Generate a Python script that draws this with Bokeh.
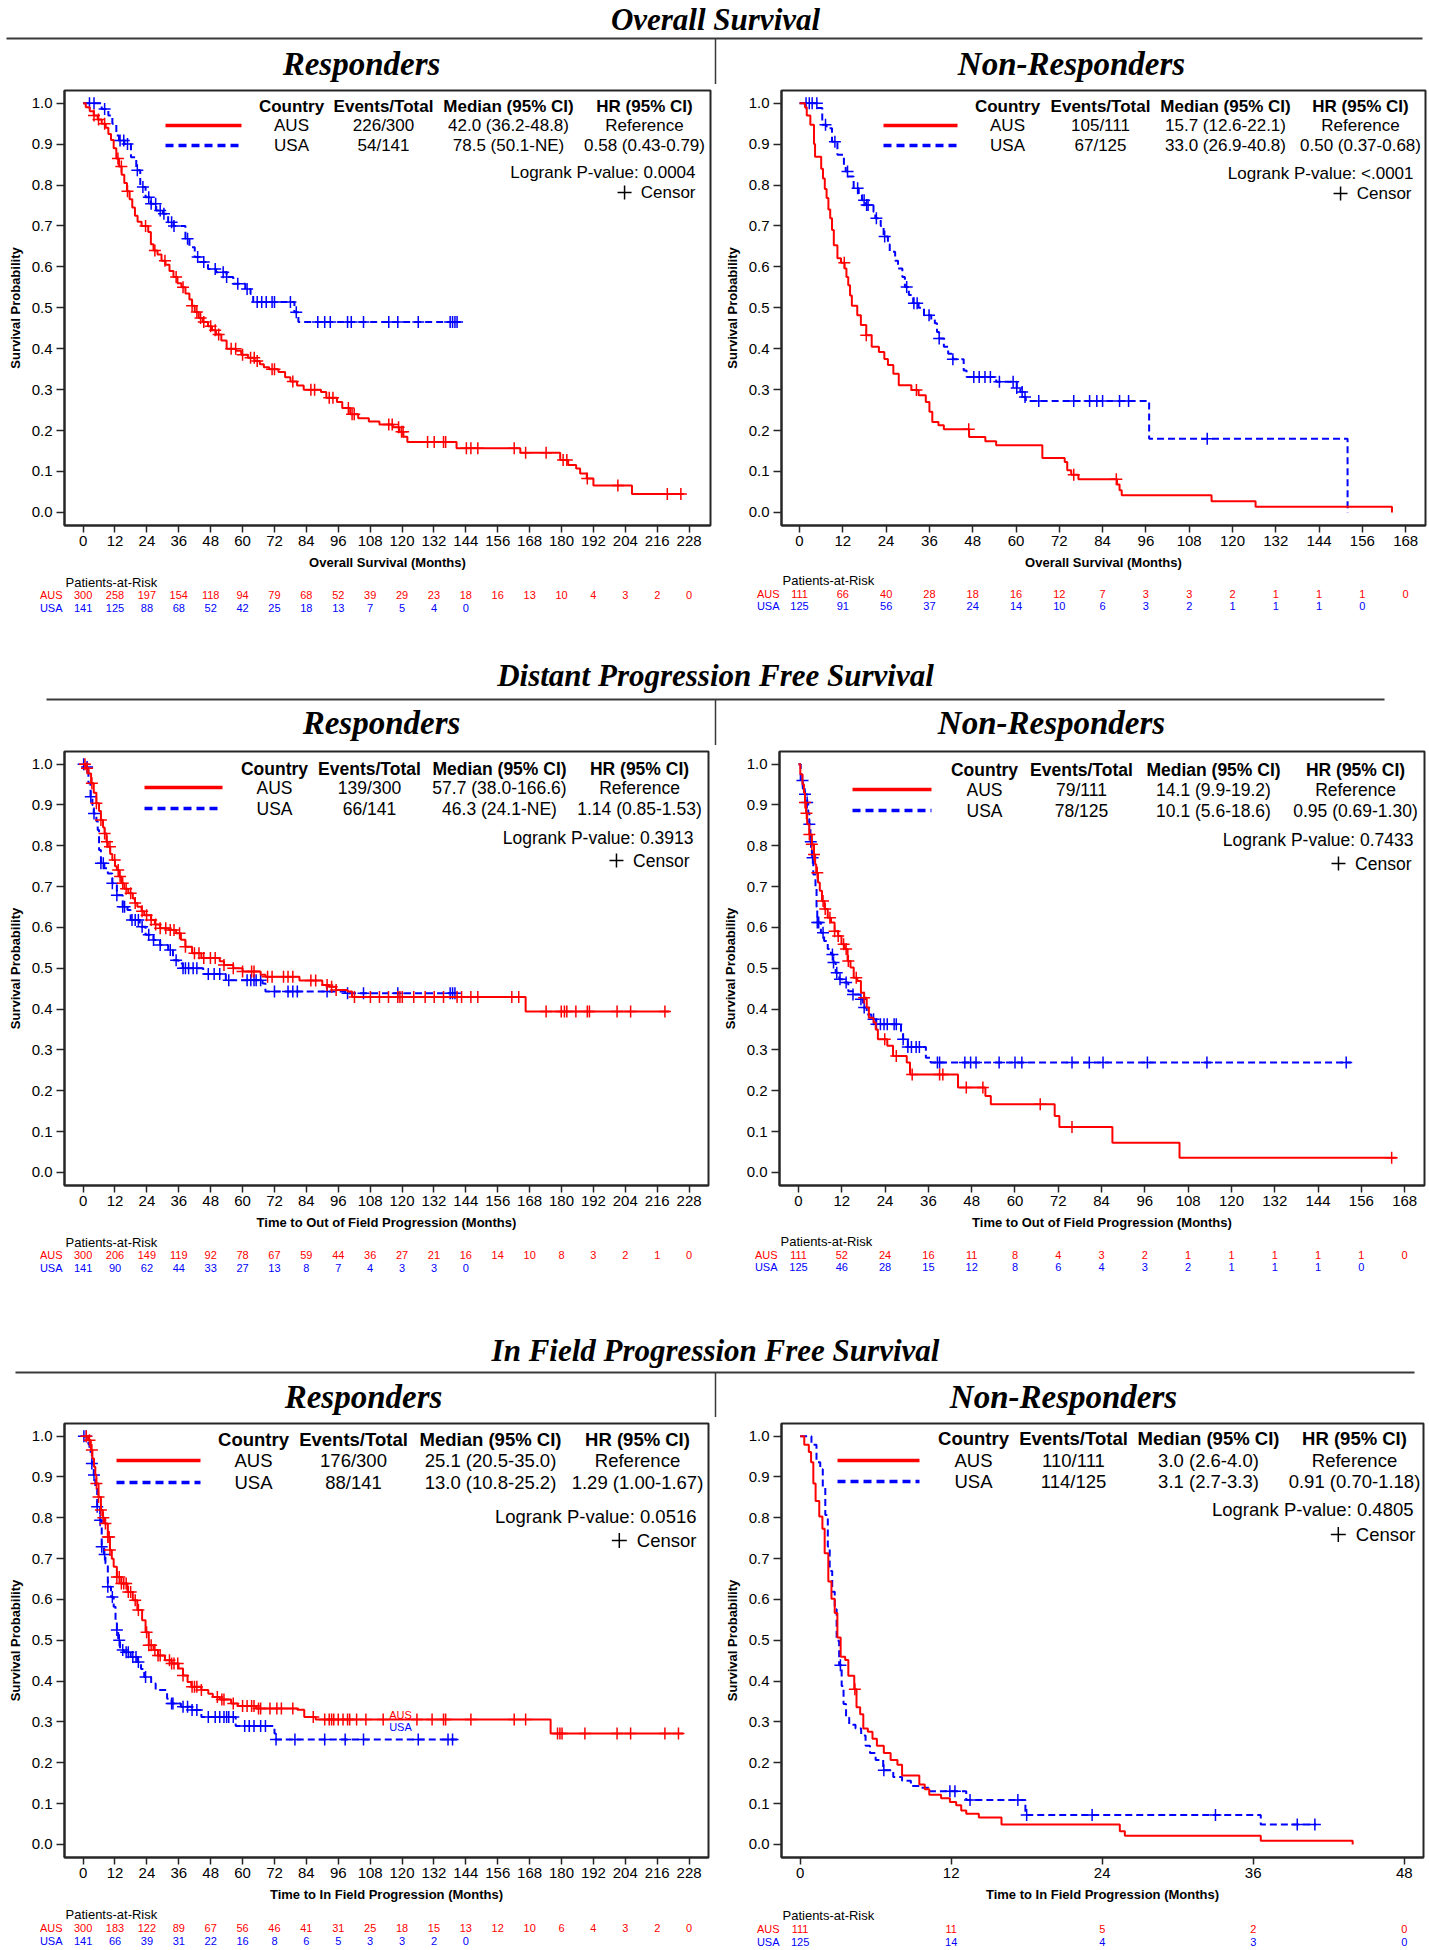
import numpy as np
from bokeh.plotting import figure
from bokeh.layouts import column, row
from bokeh.models import Range1d, FixedTicker, PrintfTickFormatter
from bokeh.embed import file_html
from bokeh.resources import INLINE
from bokeh.core.properties import value

SANS = "Liberation Sans"
SERIF = "Liberation Serif"
RED = "#FF0000"
BLUE = "#0000FF"
INK = "#262626"

# ---------------- ticks ----------------
x_ticks_228 = [0, 12, 24, 36, 48, 60, 72, 84, 96, 108, 120, 132, 144, 156, 168, 180, 192, 204, 216, 228]
x_ticks_168 = [0, 12, 24, 36, 48, 60, 72, 84, 96, 108, 120, 132, 144, 156, 168]
x_ticks_48 = [0, 12, 24, 36, 48]
y_ticks = [0.0, 0.1, 0.2, 0.3, 0.4, 0.5, 0.6, 0.7, 0.8, 0.9, 1.0]

# ---------------- Overall Survival - Responders ----------------
os_r_aus_t = [0, 1, 2.5, 4, 5.5, 7, 8.5, 9.5, 10.5, 11.5, 12.5, 13.5, 14.5, 15.5, 16.5, 17.5, 18.5, 19.5, 20.5, 22,
              24.5, 25.5, 26.5, 28, 29.5, 31, 32.5, 34, 35.5, 37, 38.5, 40, 41, 42, 43.5, 45, 47, 48.5, 50, 52,
              54, 57.5, 59.5, 62, 64.5, 66.5, 68, 70, 73.5, 76, 78, 80.5, 83, 89.5, 91.5, 95.5, 97.5, 100.5, 103.5, 107.5,
              111.5, 116.5, 119, 120.5, 122, 140.5, 164.5, 179.5, 182.5, 185.5, 187, 189.5, 192, 206.5, 226]
os_r_aus_s = [1.0, 0.99, 0.98, 0.97, 0.96, 0.95, 0.94, 0.925, 0.91, 0.89, 0.865, 0.845, 0.825, 0.805, 0.785, 0.765, 0.745, 0.725, 0.71, 0.70,
              0.685, 0.655, 0.64, 0.63, 0.615, 0.605, 0.59, 0.575, 0.56, 0.55, 0.535, 0.52, 0.505, 0.49, 0.475, 0.465, 0.455, 0.445, 0.435, 0.42,
              0.40, 0.395, 0.385, 0.378, 0.37, 0.362, 0.355, 0.35, 0.343, 0.33, 0.32, 0.31, 0.30, 0.294, 0.28, 0.27, 0.255, 0.24, 0.23, 0.222,
              0.215, 0.208, 0.197, 0.185, 0.172, 0.157, 0.146, 0.128, 0.116, 0.107, 0.095, 0.083, 0.066, 0.045, 0.045]
os_r_aus_c = [4.1, 5.8, 8.1, 13.1, 14.4, 16.7, 23.5, 27, 30.8, 35, 37.6, 41, 42.8, 44.2, 45.4, 48, 49.7, 51, 55.7, 57.4, 60, 63,
              64.4, 65.5, 71.1, 72, 78.9, 85.7, 87.1, 92.6, 94, 99.8, 101.2, 102, 115, 116.3, 118.7, 119.8, 120.4, 129.6,
              132.1, 135.6, 136.4, 144.2, 145.9, 148.5, 162.2, 166.5, 174.2, 180.6, 182, 189.7, 201.2, 219.8, 224.9]
os_r_usa_t = [0, 7, 9.5, 11, 12.5, 13.5, 15.5, 18, 20, 21.5, 23.5, 25.5, 27.5, 30, 32, 34, 38.5, 40, 42, 44,
              47, 50, 54, 56.5, 61, 63, 64, 79.5, 81, 142]
os_r_usa_s = [1.0, 0.986, 0.97, 0.95, 0.921, 0.909, 0.90, 0.868, 0.836, 0.795, 0.77, 0.754, 0.738, 0.73, 0.709, 0.70, 0.669, 0.648, 0.624, 0.612,
              0.595, 0.587, 0.575, 0.559, 0.546, 0.534, 0.514, 0.489, 0.465, 0.465]
os_r_usa_c = [2.4, 4.1, 8.1, 13.9, 15.3, 16.7, 20.4, 22.5, 24.7, 25.6, 27.3, 29, 30.4, 33.3, 34.2, 39.3, 43.1, 45.4, 49.7, 52.7,
              54, 58.2, 61.7, 65.5, 67.2, 68.9, 71.1, 72, 78, 80.2, 88.3, 90.9, 93, 99.5, 100.9, 105.5, 115, 118.4, 126.1,
              138.1, 139, 139.9, 140.7]
os_r_risk_aus = [300, 258, 197, 154, 118, 94, 79, 68, 52, 39, 29, 23, 18, 16, 13, 10, 4, 3, 2, 0]
os_r_risk_usa = [141, 125, 88, 68, 52, 42, 25, 18, 13, 7, 5, 4, 0]
os_r_row_aus = ["AUS", "226/300", "42.0 (36.2-48.8)", "Reference"]
os_r_row_usa = ["USA", "54/141", "78.5 (50.1-NE)", "0.58 (0.43-0.79)"]
os_r_logrank = "0.0004"

# ---------------- Overall Survival - Non-Responders ----------------
os_n_aus_t = [0, 1.5, 2, 3, 4, 4.3, 6, 6.5, 7, 7.5, 8, 8.5, 9, 9.5, 10.5, 11.5, 12.5, 13, 13.5, 14,
              14.5, 16, 17, 18.5, 20, 22, 23.5, 24.5, 26, 27.5, 31, 33, 35, 36, 36.8, 38.5, 40, 47, 51.5, 54.5,
              67.3, 73.5, 74.2, 75.3, 77.3, 88, 88.7, 89.3, 114.2, 126.4, 164.2]
os_n_aus_s = [1.0, 0.99, 0.97, 0.947, 0.9, 0.869, 0.84, 0.816, 0.79, 0.768, 0.74, 0.719, 0.69, 0.653, 0.621, 0.61, 0.596, 0.575, 0.555, 0.53,
              0.505, 0.482, 0.458, 0.433, 0.405, 0.392, 0.375, 0.36, 0.339, 0.311, 0.299, 0.286, 0.27, 0.246, 0.221, 0.213, 0.203, 0.184, 0.174, 0.164,
              0.133, 0.123, 0.103, 0.092, 0.081, 0.068, 0.054, 0.042, 0.027, 0.014, 0.0]
os_n_aus_c = [12.4, 18.5, 32.4, 46.9, 76, 87.8]
os_n_usa_t = [0, 5, 6.3, 7.5, 9, 10.5, 12.3, 12.8, 13.4, 15, 16.4, 17.3, 18.3, 20.5, 21, 22.5, 23.3, 24.5, 25, 26.5,
              27.3, 28.5, 29.2, 30.3, 31.5, 33, 34.5, 36.5, 37.5, 38.1, 38.7, 40, 41.2, 42.5, 45.5, 46.3, 54.5, 60.2, 61.2, 62.1,
              62.7, 96.9, 151.9]
os_n_usa_s = [1.0, 0.988, 0.947, 0.939, 0.906, 0.874, 0.845, 0.833, 0.821, 0.792, 0.776, 0.763, 0.751, 0.735, 0.719, 0.70, 0.674, 0.655, 0.637, 0.615,
              0.596, 0.575, 0.551, 0.531, 0.511, 0.5, 0.482, 0.47, 0.462, 0.441, 0.425, 0.405, 0.388, 0.374, 0.347, 0.331, 0.319, 0.304, 0.294, 0.282,
              0.272, 0.18, 0.0]
os_n_usa_c = [1.8, 2.7, 3.5, 4.8, 7.2, 9.8, 13.3, 16.1, 17.9, 18.6, 19.0, 21.3, 23.6, 29.7, 31.7, 32.6, 35.9, 38.7, 42.5, 48.3,
              49.8, 51.4, 52.9, 55.4, 59.2, 60.2, 61.7, 62.5, 66.3, 76, 80.4, 82.4, 84, 88.7, 91.2, 113]
os_n_risk_aus = [111, 66, 40, 28, 18, 16, 12, 7, 3, 3, 2, 1, 1, 1, 0]
os_n_risk_usa = [125, 91, 56, 37, 24, 14, 10, 6, 3, 2, 1, 1, 1, 0]
os_n_row_aus = ["AUS", "105/111", "15.7 (12.6-22.1)", "Reference"]
os_n_row_usa = ["USA", "67/125", "33.0 (26.9-40.8)", "0.50 (0.37-0.68)"]
os_n_logrank = "<.0001"

# ---------------- Distant PFS - Responders ----------------
dp_r_aus_t = [0, 1, 2, 3, 4, 5, 6, 6.7, 7.5, 8.1, 8.8, 9.3, 10.2, 11, 12, 12.7, 13.5, 14.4, 15.5, 17,
              18.7, 19.5, 20.4, 22, 23, 25.6, 27, 29, 32.5, 35, 36.8, 38.5, 41, 44.5, 51.4, 53, 56.5, 60, 66.8, 68.6,
              81.4, 90, 92.6, 95.2, 99.5, 101.2, 166.5, 220.6]
dp_r_aus_s = [1.0, 0.99, 0.977, 0.953, 0.93, 0.904, 0.885, 0.863, 0.845, 0.83, 0.81, 0.798, 0.78, 0.765, 0.75, 0.741, 0.725, 0.708, 0.695, 0.684,
              0.671, 0.66, 0.651, 0.64, 0.63, 0.618, 0.607, 0.598, 0.594, 0.586, 0.57, 0.553, 0.537, 0.525, 0.517, 0.508, 0.50, 0.492, 0.484, 0.479,
              0.47, 0.459, 0.455, 0.447, 0.443, 0.43, 0.394, 0.394]
dp_r_aus_c = [0.7, 1.5, 3.3, 5, 6.7, 8.1, 9, 10.1, 11.9, 13.2, 13.9, 14.9, 16.2, 17.9, 19.6, 22.2, 23.9, 25.6, 27.3, 29,
              31.1, 32.8, 34.2, 36.3, 38.5, 41.9, 43.6, 45.4, 47.9, 49.7, 53, 56.5, 60, 63.4, 64.3, 69.4, 71.1, 75.4, 77.1, 78.9,
              85.7, 87.5, 91.8, 93.5, 95.2, 102.1, 108.1, 111.5, 114.9, 118.4, 119.2, 120.1, 124.4, 128.7, 132.1, 135.6, 140.7,
              142.4, 145.9, 148.5, 161.3, 163.9, 174.2, 179.9, 181.1, 182, 185.4, 189.7, 190.5, 200.9, 206, 218.9]
dp_r_usa_t = [0, 1.3, 2, 2.8, 3.5, 4, 5, 5.5, 6, 6.7, 8, 9.3, 11, 12.7, 14.9, 16.7, 17.9, 21.3, 23.5, 26.5,
              29, 32, 33.8, 35.9, 37.5, 45.2, 53.7, 67.5, 68.6, 98.6, 140.7]
dp_r_usa_s = [1.0, 0.993, 0.953, 0.92, 0.9, 0.879, 0.86, 0.839, 0.79, 0.757, 0.745, 0.732, 0.708, 0.679, 0.651, 0.643, 0.618, 0.602, 0.582, 0.569,
              0.557, 0.545, 0.52, 0.512, 0.5, 0.486, 0.471, 0.463, 0.443, 0.439, 0.439]
dp_r_usa_c = [0.2, 1.5, 2.9, 4.1, 6.7, 7.6, 11, 12.7, 14.9, 15.6, 18.4, 19.6, 20.8, 22.2, 24.7, 26.5, 29, 32.8, 35, 37.6,
              38.5, 39.7, 41.4, 42.8, 47.1, 49.3, 51.4, 54.8, 61.7, 63.1, 64.3, 65.1, 66.8, 72, 77.1, 78.9, 80.6, 91.8,
              99.5, 105.5, 118.4, 138.1, 139, 139.9]
dp_r_risk_aus = [300, 206, 149, 119, 92, 78, 67, 59, 44, 36, 27, 21, 16, 14, 10, 8, 3, 2, 1, 0]
dp_r_risk_usa = [141, 90, 62, 44, 33, 27, 13, 8, 7, 4, 3, 3, 0]
dp_r_row_aus = ["AUS", "139/300", "57.7 (38.0-166.6)", "Reference"]
dp_r_row_usa = ["USA", "66/141", "46.3 (24.1-NE)", "1.14 (0.85-1.53)"]
dp_r_logrank = "0.3913"

# ---------------- Distant PFS - Non-Responders ----------------
dp_n_aus_t = [0, 0.5, 1.1, 1.5, 1.8, 2.1, 2.4, 3, 3.7, 4.3, 4.6, 4.9, 5.4, 5.9, 6.5, 7.2, 8.1, 9, 10, 11,
              11.9, 12.8, 13.6, 14.4, 15.3, 16.3, 17.3, 18.2, 18.9, 19.5, 20.8, 21.4, 22, 24.6, 26.2, 30, 30.9, 44.2, 51.8, 53.3,
              71, 72.3, 87, 105.6, 165.7]
dp_n_aus_s = [1.0, 0.975, 0.951, 0.93, 0.906, 0.88, 0.853, 0.828, 0.804, 0.779, 0.755, 0.734, 0.71, 0.69, 0.665, 0.645, 0.624, 0.612, 0.591, 0.579,
              0.559, 0.547, 0.518, 0.502, 0.477, 0.469, 0.44, 0.428, 0.404, 0.379, 0.367, 0.35, 0.326, 0.31, 0.285, 0.269, 0.24, 0.208, 0.187, 0.167,
              0.138, 0.111, 0.073, 0.036, 0.036]
dp_n_aus_c = [1.8, 2.2, 3, 3.7, 4.3, 5.2, 6.8, 7.4, 8.7, 10, 11, 12.5, 13.2, 13.8, 16, 18.2, 23.9, 27.1, 31.5, 39.1,
              40, 46.5, 51.1, 67, 75.8, 164.4]
dp_n_usa_t = [0, 0.6, 1.2, 1.8, 2.4, 2.7, 3, 3.3, 3.7, 4.1, 4.7, 5, 5.2, 6.2, 7.1, 8.1, 9, 9.7, 10.3, 11.3,
              12.5, 13.8, 15.1, 17, 17.9, 18.9, 20.2, 21.5, 28.4, 29, 30.3, 35.3, 36.6, 153.1]
dp_n_usa_s = [1.0, 0.96, 0.94, 0.926, 0.906, 0.88, 0.853, 0.81, 0.771, 0.73, 0.694, 0.65, 0.612, 0.587, 0.567, 0.547, 0.534, 0.514, 0.489, 0.473,
              0.465, 0.444, 0.436, 0.424, 0.404, 0.387, 0.375, 0.363, 0.346, 0.326, 0.307, 0.281, 0.269, 0.269]
dp_n_usa_c = [1.1, 1.8, 2.4, 3, 3.4, 3.9, 5.2, 5.6, 6.8, 9.4, 9.7, 10.6, 11.5, 13.2, 15.1, 17.3, 18.2, 20.8, 21.6, 22.7,
              23.7, 24.6, 26.5, 27.1, 29, 30.3, 31.3, 32.6, 33.5, 38.5, 39.1, 46.1, 47.7, 49.2, 55.6, 60, 61.9, 75.8, 80.6,
              84.4, 96.7, 113.2, 151.8]
dp_n_risk_aus = [111, 52, 24, 16, 11, 8, 4, 3, 2, 1, 1, 1, 1, 1, 0]
dp_n_risk_usa = [125, 46, 28, 15, 12, 8, 6, 4, 3, 2, 1, 1, 1, 0]
dp_n_row_aus = ["AUS", "79/111", "14.1 (9.9-19.2)", "Reference"]
dp_n_row_usa = ["USA", "78/125", "10.1 (5.6-18.6)", "0.95 (0.69-1.30)"]
dp_n_logrank = "0.7433"

# ---------------- In Field PFS - Responders ----------------
if_r_aus_t = [0, 1.9, 2.9, 3.5, 4.1, 4.6, 5, 5.8, 6.7, 7.4, 8.1, 9.3, 10.1, 10.8, 11.5, 12.7, 14.4, 16.7, 18.7, 20.4,
              22.2, 23.5, 24.7, 26.5, 28.2, 30.8, 33.3, 35.9, 37.6, 39.3, 40.7, 44.5, 47.1, 48.8, 51.4, 55.7, 58.2, 65.1, 80.6, 83.2,
              87.5, 175.9, 225.8]
if_r_aus_s = [1.0, 0.99, 0.966, 0.945, 0.925, 0.905, 0.884, 0.851, 0.819, 0.80, 0.786, 0.753, 0.721, 0.70, 0.68, 0.655, 0.639, 0.618, 0.598, 0.574,
              0.549, 0.52, 0.488, 0.476, 0.463, 0.451, 0.443, 0.431, 0.414, 0.398, 0.386, 0.378, 0.369, 0.361, 0.355, 0.345, 0.339, 0.333, 0.33, 0.312,
              0.306, 0.272, 0.272]
if_r_aus_c = [1.2, 2.4, 3.3, 5, 5.8, 6.7, 7.6, 8.4, 9.3, 9.8, 10.1, 12.7, 13.6, 14.4, 15.3, 16.2, 17, 17.9, 19.6, 20.8,
              23.9, 24.7, 25.6, 27, 28.2, 29, 32.5, 33.3, 34.2, 35.6, 37.6, 41, 41.9, 42.8, 44.5, 50.5, 52.2, 53, 56.5, 60,
              61.7, 63.4, 64.3, 66, 66.8, 70.3, 72.9, 74.6, 78.9, 86.6, 90.9, 92.6, 93.5, 94.3, 96, 97.8, 99.5, 100.3, 102.9,
              106.4, 112.9, 125.6, 131.3, 135.6, 136.4, 145.9, 162.2, 166.5, 178.5, 179.4, 180.2, 188.8, 200.9, 206, 218.9, 224]
if_r_usa_t = [0, 1.5, 2, 2.4, 3.3, 4, 4.6, 5.3, 6.4, 7, 7.8, 8.4, 9.3, 10.5, 11.5, 12.2, 12.7, 13.2, 13.9, 15.3,
              17.9, 20.4, 21.8, 23, 25.6, 27.3, 31.6, 33.3, 36.8, 41, 44.5, 57.4, 72, 72.5, 140.7]
if_r_usa_s = [1.0, 0.998, 0.98, 0.962, 0.933, 0.905, 0.876, 0.827, 0.794, 0.729, 0.71, 0.688, 0.631, 0.606, 0.582, 0.545, 0.525, 0.5, 0.476, 0.471,
              0.459, 0.447, 0.43, 0.41, 0.394, 0.378, 0.357, 0.345, 0.337, 0.329, 0.312, 0.29, 0.272, 0.257, 0.257]
if_r_usa_c = [0.3, 1.2, 3.3, 4.1, 5.3, 6.4, 7, 8.1, 9.3, 11, 12.7, 13.6, 14.9, 16.2, 17, 18.7, 19.9, 20.8, 23.5, 33.3,
              33.8, 37.6, 39.3, 41, 42.8, 47.1, 49.7, 51.4, 53, 54, 54.8, 56.5, 60.8, 62.5, 64.3, 66.8, 68.6, 72.6, 79.7,
              90.9, 98.6, 105.5, 126.1, 137.3, 139]
if_r_risk_aus = [300, 183, 122, 89, 67, 56, 46, 41, 31, 25, 18, 15, 13, 12, 10, 6, 4, 3, 2, 0]
if_r_risk_usa = [141, 66, 39, 31, 22, 16, 8, 6, 5, 3, 3, 2, 0]
if_r_row_aus = ["AUS", "176/300", "25.1 (20.5-35.0)", "Reference"]
if_r_row_usa = ["USA", "88/141", "13.0 (10.8-25.2)", "1.29 (1.00-1.67)"]
if_r_logrank = "0.0516"

# ---------------- In Field PFS - Non-Responders ----------------
if_n_aus_t = [0, 0.33, 0.69, 0.87, 1.05, 1.23, 1.52, 1.77, 1.95, 2.24, 2.49, 2.75, 2.96, 3.22, 3.58, 3.83, 4.3, 4.48, 4.77, 5.02,
              5.38, 5.75, 6.1, 6.65, 7.19, 7.73, 8.1, 9.47, 9.9, 10.26, 11.2, 11.9, 12.4, 12.8, 13.2, 14.2, 16, 25.4, 25.8, 36.6,
              43.9]
if_n_aus_s = [1.0, 0.979, 0.961, 0.936, 0.884, 0.841, 0.803, 0.773, 0.713, 0.644, 0.602, 0.567, 0.507, 0.46, 0.452, 0.413, 0.38, 0.336, 0.319, 0.284,
              0.276, 0.259, 0.242, 0.224, 0.207, 0.195, 0.169, 0.147, 0.135, 0.122, 0.113, 0.104, 0.096, 0.083, 0.075, 0.066, 0.049, 0.032, 0.021, 0.009,
              0.0]
if_n_aus_c = [4.35]
if_n_usa_t = [0, 0.9, 1.3, 1.6, 1.8, 2.0, 2.2, 2.35, 2.55, 2.75, 2.9, 3.1, 3.3, 3.45, 3.65, 3.9, 4.4, 4.85, 5.2, 5.55,
              6.0, 6.6, 7.4, 8.1, 8.8, 9.5, 10.2, 13.2, 17.9, 36.6, 41]
if_n_usa_s = [1.0, 0.979, 0.936, 0.919, 0.876, 0.807, 0.73, 0.67, 0.619, 0.576, 0.499, 0.439, 0.388, 0.344, 0.31, 0.293, 0.284, 0.267, 0.242, 0.224,
              0.207, 0.182, 0.165, 0.156, 0.143, 0.139, 0.13, 0.109, 0.072, 0.049, 0.049]
if_n_usa_c = [3.2, 6.65, 11.9, 12.3, 13.5, 17.3, 18, 23.2, 33, 39.5, 40.9]
if_n_risk_aus = [111, 11, 5, 2, 0]
if_n_risk_usa = [125, 14, 4, 3, 0]
if_n_row_aus = ["AUS", "110/111", "3.0 (2.6-4.0)", "Reference"]
if_n_row_usa = ["USA", "114/125", "3.1 (2.7-3.3)", "0.91 (0.70-1.18)"]
if_n_logrank = "0.4805"

table_header = ["Country", "Events/Total", "Median (95% CI)", "HR (95% CI)"]

# ---------------- layout geometry (page pixels) ----------------
PAGE_W = 1429
COL_L = 715
COL_R = 714
BT, BB = 6, 49
YR = (-0.032, 1.031)


def geo(width, bl, br, frame_h, xr):
    return dict(width=width, bl=bl, br=br, FL=bl, FW=width - bl - br, FT=BT, FH=frame_h,
                H=BT + frame_h + BB, xr=xr)


def px_x(g, px):
    x0, x1 = g["xr"]
    return x0 + (px - g["FL"]) / g["FW"] * (x1 - x0)


def px_y(g, py):
    y0, y1 = YR
    return y1 - (py - g["FT"]) / g["FH"] * (y1 - y0)


def surv_at(t_steps, s_steps, times):
    idx = np.searchsorted(np.asarray(t_steps, dtype=float), np.asarray(times, dtype=float), side="right") - 1
    return np.asarray(s_steps, dtype=float)[idx]


def make_panel(g, xticks, xlabel, aus, usa, rows, logrank, leg):
    p = figure(width=g["width"], height=g["H"], x_range=Range1d(*g["xr"]), y_range=Range1d(*YR),
               min_border_left=g["bl"], min_border_right=g["br"], min_border_top=BT, min_border_bottom=BB,
               output_backend="svg", toolbar_location=None, title=None, tools="")
    p.xgrid.visible = False
    p.ygrid.visible = False
    p.outline_line_color = INK
    p.outline_line_width = 2
    p.xaxis.ticker = FixedTicker(ticks=xticks)
    p.yaxis.ticker = FixedTicker(ticks=y_ticks)
    p.yaxis.formatter = PrintfTickFormatter(format="%.1f")
    for ax in (p.xaxis[0], p.yaxis[0]):
        ax.axis_line_color = INK
        ax.axis_line_width = 2
        ax.major_tick_line_color = INK
        ax.major_tick_line_width = 1.5
        ax.major_tick_in = 0
        ax.minor_tick_line_color = None
        ax.major_label_text_font = SANS
        ax.major_label_text_font_size = "15px"
        ax.major_label_text_color = "black"
        ax.axis_label_text_font = SANS
        ax.axis_label_text_font_size = "13px"
        ax.axis_label_text_font_style = "bold"
        ax.axis_label_text_color = "black"
    p.xaxis.major_tick_out = 7
    p.xaxis.major_label_standoff = 3
    p.xaxis.axis_label_standoff = 6
    p.yaxis.major_tick_out = 8
    p.yaxis.major_label_standoff = 4
    p.yaxis.axis_label_standoff = 6
    p.xaxis.axis_label = xlabel
    p.yaxis.axis_label = "Survival Probability"

    # curves: USA first (underneath), then AUS
    for (t, s, c), color, dash in ((usa, BLUE, "7 4"), (aus, RED, "solid")):
        p.step(x=t, y=s, mode="after", line_color=color, line_width=2, line_dash=dash)
        p.scatter(x=c, y=surv_at(t, s, c), marker="cross", size=12, line_color=color, line_width=1.5)

    # summary table
    fs = leg["fs"]
    fpx = float(fs.replace("px", ""))
    right = g["FL"] + g["FW"]
    X = lambda dx: px_x(g, right + dx)
    Y = lambda dy: px_y(g, g["FT"] + dy)
    cx = [X(c) for c in leg["cols"]]
    ry = leg["rows"]
    p.text(x=cx, y=[Y(ry[0])] * 4, text=table_header, text_font=value(SANS), text_font_size=fs,
           text_font_style="bold", text_align="center", text_baseline="middle", text_color="black")
    p.text(x=cx, y=[Y(ry[1])] * 4, text=rows[0], text_font=value(SANS), text_font_size=fs,
           text_align="center", text_baseline="middle", text_color="black")
    p.text(x=cx, y=[Y(ry[2])] * 4, text=rows[1], text_font=value(SANS), text_font_size=fs,
           text_align="center", text_baseline="middle", text_color="black")
    l0, l1 = leg["line"]
    p.segment(x0=[X(l0)], y0=[Y(ry[1])], x1=[X(l1)], y1=[Y(ry[1])], line_color=RED, line_width=3.5)
    p.segment(x0=[X(l0)], y0=[Y(ry[2])], x1=[X(l1)], y1=[Y(ry[2])], line_color=BLUE, line_width=3.5,
              line_dash="8 5")
    p.text(x=[X(leg["lr"])], y=[Y(ry[3])], text=["Logrank P-value: " + logrank], text_font=value(SANS),
           text_font_size=fs, text_align="right", text_baseline="middle", text_color="black")
    p.text(x=[X(leg["cr"])], y=[Y(ry[4])], text=["Censor"], text_font=value(SANS),
           text_font_size=fs, text_align="right", text_baseline="middle", text_color="black")
    plus_dx = leg["cr"] - 3.223 * fpx - 0.95 * fpx
    p.scatter(x=[X(plus_dx)], y=[Y(ry[4])], marker="cross", size=round(0.8 * fpx), line_color="black",
              line_width=1.5)
    return p


def make_risk(g, h, ry, xticks, aus_n, usa_n):
    k = (g["xr"][1] - g["xr"][0]) / g["FW"]
    start = g["xr"][0] - g["FL"] * k
    end = start + g["width"] * k
    r = figure(width=g["width"], height=h, x_range=Range1d(start, end), y_range=Range1d(h, 0),
               x_axis_type=None, y_axis_type=None, min_border=0, output_backend="svg",
               toolbar_location=None, title=None, tools="")
    r.outline_line_color = None
    r.grid.visible = False
    P = lambda px: start + px * k
    r.text(x=[P(g["FL"] + 1)], y=[ry[0]], text=["Patients-at-Risk"], text_font=value(SANS),
           text_font_size="13px", text_align="left", text_baseline="middle", text_color="black")
    r.text(x=[P(g["FL"] - 2), P(g["FL"] - 2)], y=[ry[1], ry[2]], text=["AUS", "USA"],
           text_color=[RED, BLUE], text_font=value(SANS), text_font_size="11px",
           text_align="right", text_baseline="middle")
    r.text(x=xticks[:len(aus_n)], y=[ry[1]] * len(aus_n), text=[str(v) for v in aus_n], text_color=RED,
           text_font=value(SANS), text_font_size="11px", text_align="center", text_baseline="middle")
    r.text(x=xticks[:len(usa_n)], y=[ry[2]] * len(usa_n), text=[str(v) for v in usa_n], text_color=BLUE,
           text_font=value(SANS), text_font_size="11px", text_align="center", text_baseline="middle")
    return r


def make_header(h, title, ty, ly, lx0, lx1, sy, sx_left, sx_right):
    hf = figure(width=PAGE_W, height=h, x_range=Range1d(0, PAGE_W), y_range=Range1d(h, 0),
                x_axis_type=None, y_axis_type=None, min_border=0, output_backend="svg",
                toolbar_location=None, title=None, tools="")
    hf.outline_line_color = None
    hf.grid.visible = False
    hf.text(x=[715], y=[ty], text=[title], text_font=value(SERIF), text_font_style="bold italic",
            text_font_size="31px", text_align="center", text_baseline="middle", text_color="black")
    hf.segment(x0=[lx0], y0=[ly], x1=[lx1], y1=[ly], line_color="#3a3a3a", line_width=2)
    hf.segment(x0=[715], y0=[ly], x1=[715], y1=[h], line_color="#3a3a3a", line_width=1.5)
    hf.text(x=[sx_left, sx_right], y=[sy, sy], text=["Responders", "Non-Responders"], text_font=value(SERIF),
            text_font_style="bold italic", text_font_size="33px", text_align="center", text_baseline="middle",
            text_color="black")
    return hf


LEG = {
    "os_r": dict(fs="17px", rows=[16, 35, 55, 82, 102], cols=[-419, -327, -202, -66], line=[-545, -469], lr=-15, cr=-15),
    "os_n": dict(fs="17px", rows=[16, 35, 55, 83, 103], cols=[-418, -325, -200, -65], line=[-542, -468], lr=-12, cr=-14),
    "dp_r": dict(fs="17.5px", rows=[17, 36, 57, 86, 109], cols=[-434, -339, -209, -69], line=[-564, -486], lr=-15, cr=-19),
    "dp_n": dict(fs="17.5px", rows=[18, 38, 59, 88, 112], cols=[-440, -343, -211, -69], line=[-572, -493], lr=-11, cr=-13),
    "if_r": dict(fs="18.5px", rows=[16, 37, 59, 93, 117], cols=[-455, -355, -218, -71], line=[-592, -508], lr=-12, cr=-12),
    "if_n": dict(fs="18.5px", rows=[15, 37, 58, 86, 111], cols=[-450, -350, -215, -69], line=[-586, -504], lr=-10, cr=-8),
}

# ---------------- section 1 ----------------
h1 = make_header(84, "Overall Survival", 19, 38, 6, 1422, 63, 361, 1071)
g1l = geo(COL_L, 64, 5, 435, (-7.0, 236.05))
g1r = geo(COL_R, 66, 4, 435, (-5.0, 173.5))
p1l = make_panel(g1l, x_ticks_228, "Overall Survival (Months)", (os_r_aus_t, os_r_aus_s, os_r_aus_c),
                 (os_r_usa_t, os_r_usa_s, os_r_usa_c), (os_r_row_aus, os_r_row_usa), os_r_logrank, LEG["os_r"])
p1r = make_panel(g1r, x_ticks_168, "Overall Survival (Months)", (os_n_aus_t, os_n_aus_s, os_n_aus_c),
                 (os_n_usa_t, os_n_usa_s, os_n_usa_c), (os_n_row_aus, os_n_row_usa), os_n_logrank, LEG["os_n"])
r1l = make_risk(g1l, 40, (8, 20, 33), x_ticks_228, os_r_risk_aus, os_r_risk_usa)
r1r = make_risk(g1r, 40, (6, 19, 31), x_ticks_168, os_n_risk_aus, os_n_risk_usa)

# ---------------- section 2 ----------------
h2 = make_header(131, "Distant Progression Free Survival", 61, 85, 46, 1384, 108, 381, 1051)
g2l = geo(COL_L, 64, 7, 434, (-7.0, 235.3))
g2r = geo(COL_R, 64, 5, 434, (-5.27, 173.5))
p2l = make_panel(g2l, x_ticks_228, "Time to Out of Field Progression (Months)", (dp_r_aus_t, dp_r_aus_s, dp_r_aus_c),
                 (dp_r_usa_t, dp_r_usa_s, dp_r_usa_c), (dp_r_row_aus, dp_r_row_usa), dp_r_logrank, LEG["dp_r"])
p2r = make_panel(g2r, x_ticks_168, "Time to Out of Field Progression (Months)", (dp_n_aus_t, dp_n_aus_s, dp_n_aus_c),
                 (dp_n_usa_t, dp_n_usa_s, dp_n_usa_c), (dp_n_row_aus, dp_n_row_usa), dp_n_logrank, LEG["dp_n"])
r2l = make_risk(g2l, 40, (8, 20, 33), x_ticks_228, dp_r_risk_aus, dp_r_risk_usa)
r2r = make_risk(g2r, 40, (7, 20, 32), x_ticks_168, dp_n_risk_aus, dp_n_risk_usa)

# ---------------- section 3 ----------------
h3 = make_header(143, "In Field Progression Free Survival", 76, 98, 15, 1414, 122, 363, 1063)
g3l = geo(COL_L, 64, 7, 434, (-7.0, 235.3))
g3r = geo(COL_R, 66, 6, 434, (-1.48, 49.53))
p3l = make_panel(g3l, x_ticks_228, "Time to In Field Progression (Months)", (if_r_aus_t, if_r_aus_s, if_r_aus_c),
                 (if_r_usa_t, if_r_usa_s, if_r_usa_c), (if_r_row_aus, if_r_row_usa), if_r_logrank, LEG["if_r"])
p3l.text(x=[119.4, 119.4], y=[0.316, 0.287], text=["AUS", "USA"], text_color=[RED, BLUE],
         text_font=value(SANS), text_font_size="11px", text_align="center", text_baseline="middle")
p3r = make_panel(g3r, x_ticks_48, "Time to In Field Progression (Months)", (if_n_aus_t, if_n_aus_s, if_n_aus_c),
                 (if_n_usa_t, if_n_usa_s, if_n_usa_c), (if_n_row_aus, if_n_row_usa), if_n_logrank, LEG["if_n"])
r3l = make_risk(g3l, 43, (8, 21, 34), x_ticks_228, if_r_risk_aus, if_r_risk_usa)
r3r = make_risk(g3r, 43, (9, 22, 35), x_ticks_48, if_n_risk_aus, if_n_risk_usa)

layout = column(
    h1, row(p1l, p1r, spacing=0), row(r1l, r1r, spacing=0),
    h2, row(p2l, p2r, spacing=0), row(r2l, r2r, spacing=0),
    h3, row(p3l, p3r, spacing=0), row(r3l, r3r, spacing=0),
    spacing=0,
)

open("out.html", "w").write(file_html(layout, INLINE, "Kaplan-Meier curves: AUS vs USA"))
